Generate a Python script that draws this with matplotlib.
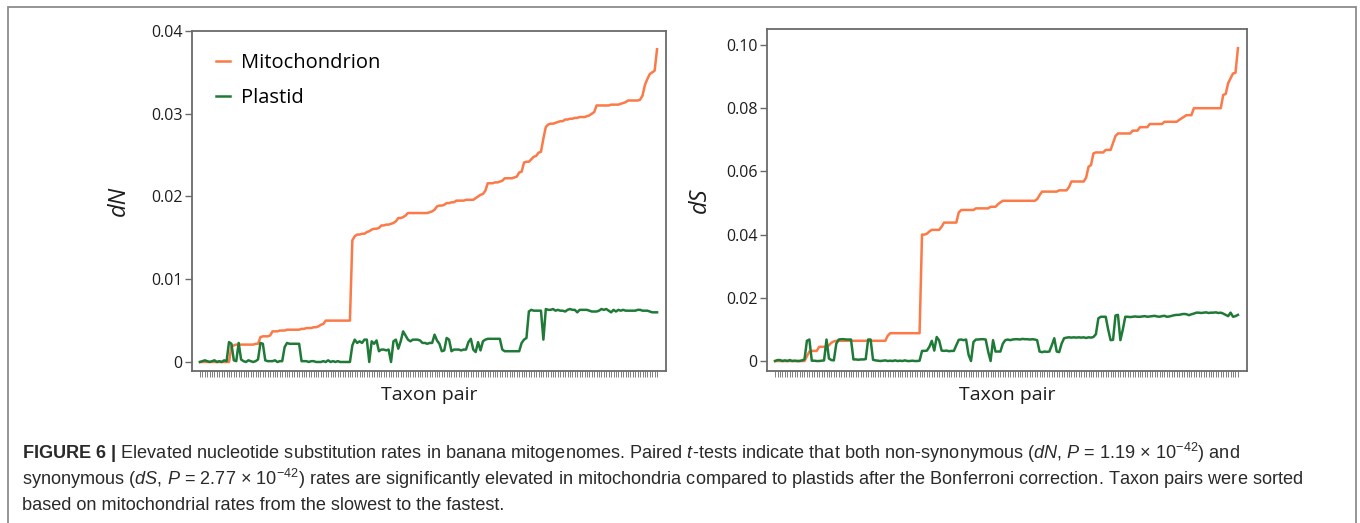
import matplotlib
matplotlib.use("Agg")
import matplotlib.pyplot as plt
import numpy as np
from matplotlib.ticker import FuncFormatter
from matplotlib.patches import Rectangle
from matplotlib.lines import Line2D

plt.rcParams['font.family'] = ['Open Sans', 'DejaVu Sans']
plt.rcParams['mathtext.fontset'] = 'custom'
plt.rcParams['mathtext.rm'] = 'Liberation Sans'
plt.rcParams['mathtext.it'] = 'Liberation Sans:italic'
plt.rcParams['mathtext.bf'] = 'Liberation Sans:bold'

# rates in units of 1e-3, taxon pairs sorted by mitochondrial rate
mito_dN = [
    0, 0, 0, 0, 0, 0, 0, 0, 0, 0,
    0, 0, 0, 1.9, 2.0, 2.1, 2.1, 2.1, 2.1, 2.1,
    2.1, 2.1, 2.1, 2.2, 2.2, 3.0, 3.1, 3.1, 3.1, 3.2,
    3.7, 3.7, 3.7, 3.8, 3.8, 3.8, 3.9, 3.9, 3.9, 3.9,
    3.9, 3.9, 4.0, 4.0, 4.1, 4.1, 4.1, 4.2, 4.2, 4.3,
    4.5, 4.6, 5.0, 5.0, 5.0, 5.0, 5.0, 5.0, 5.0, 5.0,
    5.0, 5.0, 5.0, 14.7, 15.2, 15.4, 15.4, 15.5, 15.5, 15.7,
    15.8, 16.0, 16.1, 16.1, 16.2, 16.5, 16.5, 16.6, 16.6, 16.7,
    16.8, 17.0, 17.4, 17.4, 17.5, 17.7, 18.0, 18.0, 18.0, 18.0,
    18.0, 18.0, 18.0, 18.0, 18.0, 18.1, 18.2, 18.4, 18.8, 18.9,
    18.9, 19.0, 19.2, 19.2, 19.3, 19.3, 19.5, 19.5, 19.5, 19.5,
    19.6, 19.6, 19.6, 19.6, 19.8, 20.0, 20.2, 20.3, 20.7, 21.6,
    21.6, 21.6, 21.7, 21.7, 21.8, 21.9, 22.2, 22.2, 22.2, 22.2,
    22.3, 22.4, 22.9, 23.0, 24.1, 24.2, 24.2, 24.5, 24.8, 24.9,
    25.3, 25.4, 27.0, 28.4, 28.7, 28.8, 28.8, 28.9, 29.0, 29.1,
    29.1, 29.3, 29.3, 29.4, 29.4, 29.5, 29.5, 29.6, 29.6, 29.6,
    29.7, 29.8, 30.0, 30.2, 31.0, 31.0, 31.0, 31.0, 31.0, 31.0,
    31.1, 31.1, 31.1, 31.1, 31.2, 31.3, 31.4, 31.6, 31.6, 31.6,
    31.6, 31.6, 31.7, 32.2, 33.5, 34.2, 34.8, 35.0, 35.2, 37.8,
]
plastid_dN = [
    0.0, 0.1, 0.2, 0.1, 0.0, 0.1, 0.2, 0.0, 0.1, 0.0,
    0.2, 0.1, 2.4, 2.2, 0.2, 0.1, 2.3, 0.3, 0.1, 0.0,
    0.2, 0.1, 0.0, 0.1, 0.3, 2.3, 2.2, 0.2, 0.1, 0.1,
    0.1, 0.2, 0.0, 0.1, 0.1, 1.8, 2.3, 2.2, 2.2, 2.2,
    2.2, 2.2, 0.1, 0.1, 0.1, 0.0, 0.1, 0.1, 0.0, 0.0,
    0.0, 0.1, 0.0, 0.2, 0.0, 0.1, 0.0, 0.1, 0.0, 0.0,
    0.0, 0.0, 0.0, 2.0, 2.7, 2.3, 2.5, 2.3, 2.7, 2.7,
    0.0, 2.5, 2.2, 2.6, 1.3, 1.5, 1.5, 1.4, 1.5, 0.0,
    2.5, 2.7, 1.6, 2.5, 3.7, 3.2, 2.7, 2.5, 2.7, 2.7,
    2.7, 2.6, 2.3, 2.3, 2.2, 2.3, 2.3, 3.3, 2.6, 2.2,
    1.3, 1.4, 2.9, 2.7, 1.3, 1.5, 1.5, 1.5, 1.4, 1.5,
    1.5, 2.4, 2.8, 1.5, 1.2, 2.4, 1.4, 2.5, 2.7, 2.8,
    2.8, 2.8, 2.8, 2.8, 2.8, 1.5, 1.3, 1.3, 1.3, 1.3,
    1.3, 1.3, 1.3, 2.3, 2.7, 2.9, 6.1, 6.3, 6.2, 6.2,
    6.2, 6.2, 2.7, 6.4, 6.3, 6.3, 6.4, 6.2, 6.3, 6.2,
    6.2, 6.1, 6.3, 6.4, 6.3, 6.3, 6.0, 6.3, 6.3, 6.3,
    6.3, 6.2, 6.1, 6.1, 6.1, 6.2, 6.4, 6.3, 6.4, 6.2,
    6.0, 6.3, 6.1, 6.3, 6.2, 6.3, 6.2, 6.2, 6.2, 6.2,
    6.2, 6.3, 6.3, 6.2, 6.2, 6.2, 6.1, 6.0, 6.0, 6.0,
]
mito_dS = [
    0, 0, 0, 0, 0, 0, 0, 0, 0, 0,
    0, 0, 0, 1.5, 3.0, 3.2, 3.2, 3.2, 4.5, 4.5,
    4.5, 4.5, 5.0, 5.8, 6.2, 6.4, 6.4, 6.4, 6.4, 6.4,
    6.4, 6.4, 6.4, 6.4, 6.4, 6.4, 6.4, 6.4, 6.4, 6.4,
    6.4, 6.4, 6.4, 6.4, 6.4, 6.4, 8.0, 8.8, 8.8, 8.8,
    8.8, 8.8, 8.8, 8.8, 8.8, 8.8, 8.8, 8.8, 8.8, 8.8,
    40.0, 40.0, 40.3, 41.0, 41.5, 41.5, 41.5, 41.5, 42.5, 43.8,
    43.8, 43.8, 43.8, 43.8, 43.8, 47.0, 47.8, 47.8, 47.8, 47.8,
    47.8, 47.8, 48.3, 48.3, 48.3, 48.3, 48.3, 48.3, 48.8, 48.8,
    48.8, 49.6, 50.2, 50.7, 50.7, 50.7, 50.7, 50.7, 50.7, 50.7,
    50.7, 50.7, 50.7, 50.7, 50.7, 50.7, 50.7, 51.2, 52.5, 53.6,
    53.6, 53.6, 53.6, 53.6, 53.6, 53.6, 54.0, 54.0, 54.0, 54.0,
    55.0, 56.8, 56.8, 56.8, 56.8, 56.8, 56.8, 58.0, 61.5, 62.0,
    65.7, 66.0, 66.0, 66.0, 66.0, 66.8, 66.8, 66.8, 69.0, 71.2,
    72.0, 72.0, 72.0, 72.0, 72.0, 72.0, 72.9, 72.9, 72.9, 74.0,
    74.0, 74.0, 74.0, 75.0, 75.0, 75.0, 75.0, 75.0, 75.0, 75.7,
    75.7, 75.7, 75.7, 75.7, 75.7, 76.3, 76.8, 77.3, 77.8, 77.8,
    77.8, 80.0, 80.0, 80.0, 80.0, 80.0, 80.0, 80.0, 80.0, 80.0,
    80.0, 80.0, 80.0, 84.2, 84.5, 87.9, 89.5, 91.0, 91.2, 99.0,
]
plastid_dS = [
    0.0, 0.3, 0.3, 0.0, 0.2, 0.0, 0.3, 0.0, 0.1, 0.0,
    0.0, 0.2, 0.5, 6.4, 6.8, 0.1, 0.1, 0.0, 0.0, 0.1,
    0.2, 6.8, 0.8, 0.3, 0.2, 5.5, 6.8, 6.9, 6.9, 6.8,
    6.8, 6.8, 0.5, 0.5, 0.4, 0.5, 0.5, 0.6, 6.8, 6.8,
    0.4, 0.2, 0.1, 0.0, 0.1, 0.2, 0.0, 0.1, 0.0, 0.2,
    0.0, 0.1, 0.0, 0.2, 0.0, 0.0, 0.1, 0.0, 0.0, 0.1,
    3.2, 3.2, 3.3, 4.5, 6.4, 3.3, 7.6, 6.5, 3.3, 3.2,
    3.3, 3.1, 3.2, 3.2, 5.0, 6.7, 6.8, 6.6, 6.8, 2.0,
    0.0, 6.0, 6.8, 6.8, 6.9, 6.9, 6.8, 3.0, 0.0, 6.6,
    3.0, 3.0, 3.0, 5.5, 6.6, 6.8, 6.6, 6.8, 6.9, 6.9,
    6.8, 7.0, 6.9, 6.9, 6.8, 6.9, 6.8, 6.6, 3.0, 2.8,
    3.0, 2.9, 3.0, 5.0, 7.2, 3.0, 2.8, 5.5, 7.2, 7.4,
    7.5, 7.4, 7.5, 7.4, 7.5, 7.4, 7.5, 7.3, 7.5, 7.4,
    7.6, 8.5, 13.5, 14.0, 14.0, 14.0, 10.0, 6.6, 6.7, 14.4,
    14.6, 6.6, 10.0, 14.0, 14.0, 13.9, 14.0, 14.1, 14.0, 14.0,
    14.1, 14.2, 14.0, 14.1, 14.2, 14.3, 14.1, 14.0, 14.2, 14.3,
    14.0, 14.1, 14.3, 14.5, 14.6, 14.6, 14.8, 14.9, 14.8, 14.5,
    14.8, 15.0, 15.3, 15.3, 15.2, 15.3, 15.4, 15.2, 15.3, 15.3,
    15.4, 15.2, 15.3, 15.0, 14.6, 14.2, 15.3, 14.0, 14.2, 14.6,
]

series_labels = ['Mitochondrion', 'Plastid']
dN_ticks = [0, 0.01, 0.02, 0.03, 0.04]
dS_ticks = [0, 0.02, 0.04, 0.06, 0.08, 0.10]

caption = [
    r"$\bf{FIGURE\ 6\ |}$ Elevated nucleotide substitution rates in banana mitogenomes. "
    r"Paired $t$-tests indicate that both non-synonymous ($dN$, $P$ = 1.19 × $10^{-42}$) and",
    r"synonymous ($dS$, $P$ = 2.77 × $10^{-42}$) rates are significantly elevated in mitochondria "
    r"compared to plastids after the Bonferroni correction. Taxon pairs were sorted",
    "based on mitochondrial rates from the slowest to the fastest.",
]

MITO = '#fb7a47'
PLAST = '#1f7a38'
SPINE = '#6a6a6a'

n_pairs = len(mito_dN)
pairs = np.arange(n_pairs)

W, H = 1360, 523
fig = plt.figure(figsize=(W / 100, H / 100), dpi=100)
ax1 = fig.add_axes([192 / W, 1 - 371 / H, 474 / W, 340 / H])
ax2 = fig.add_axes([767 / W, 1 - 371 / H, 480 / W, 342 / H])


def style(ax, ylim, yticks, ylabel, lab_x):
    ax.set_xlim(-3.3, n_pairs - 1 + 3.7)
    ax.set_ylim(*ylim)
    ax.set_yticks(yticks)
    ax.yaxis.set_major_formatter(
        FuncFormatter(lambda v, p: '0' if abs(v) < 1e-9 else f'{v:.2f}'))
    ax.set_xticks(pairs)
    ax.set_xticklabels([])
    ax.tick_params(axis='x', length=4, width=0.6, color=SPINE)
    ax.tick_params(axis='y', length=5, width=1.0, color=SPINE,
                   labelsize=11.5, labelcolor='#1e1e1e', pad=2)
    for s in ax.spines.values():
        s.set_color(SPINE)
        s.set_linewidth(1.3)
    ax.set_xlabel('Taxon pair', fontsize=14, color='#1e1e1e')
    ax.xaxis.set_label_coords(0.5, -0.045)
    ax.set_ylabel(ylabel, fontsize=17, style='italic', color='#1e1e1e')
    ax.yaxis.set_label_coords(lab_x, 0.5)


ax1.plot(pairs, np.array(mito_dN) * 1e-3, color=MITO, lw=1.8)
ax1.plot(pairs, np.array(plastid_dN) * 1e-3, color=PLAST, lw=1.8)
style(ax1, (-0.00109, 0.04), dN_ticks, 'dN', -0.13)

ax2.plot(pairs, np.array(mito_dS) * 1e-3, color=MITO, lw=1.8)
ax2.plot(pairs, np.array(plastid_dS) * 1e-3, color=PLAST, lw=1.8)
style(ax2, (-0.00316, 0.10506), dS_ticks, 'dS', -0.115)

handles = [Line2D([0], [0], color=MITO, lw=1.8),
           Line2D([0], [0], color=PLAST, lw=1.8)]
ax1.legend(handles, series_labels, loc='upper left', bbox_to_anchor=(0.05, 0.935),
           frameon=False, fontsize=14.5, handlelength=0.7, handletextpad=0.55,
           labelspacing=0.75, borderpad=0, borderaxespad=0)

# caption
for k, line in enumerate(caption):
    fig.text(22 / W, 1 - (453 + 26 * k) / H, line, fontsize=13.05,
             family='Liberation Sans', color='#2a2a2a', va='center', ha='left')

# outer frame (bottom edge runs off the image)
frame = Rectangle((8 / W, -0.05), (1356 - 8) / W, 1 - 7 / H + 0.05,
                  transform=fig.transFigure, fill=False, edgecolor='#8c8c8c',
                  lw=1.3, clip_on=False)
fig.add_artist(frame)

fig.savefig('out.png', dpi=100)
